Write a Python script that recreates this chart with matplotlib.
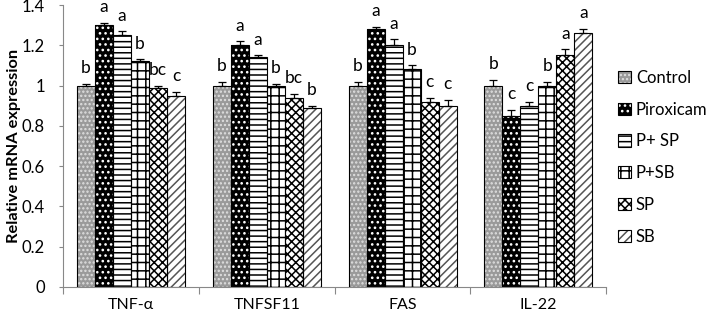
import matplotlib
matplotlib.use('Agg')
import matplotlib.pyplot as plt
from matplotlib.patches import Patch
from matplotlib.legend_handler import HandlerTuple
from matplotlib.ticker import FuncFormatter
import numpy as np

genes = ['TNF-α', 'TNFSF11', 'FAS', 'IL-22']
groups = ['Control', 'Piroxicam', 'P+ SP', 'P+SB', 'SP', 'SB']

# mean per group, one list per treatment (gene order as above)
control = [1.00, 1.00, 1.00, 1.00]
piroxicam = [1.30, 1.20, 1.28, 0.85]
p_sp = [1.25, 1.14, 1.20, 0.90]
p_sb = [1.12, 1.00, 1.08, 1.00]
sp = [0.99, 0.94, 0.92, 1.15]
sb = [0.95, 0.89, 0.90, 1.26]

control_err = [0.01, 0.02, 0.02, 0.03]
piroxicam_err = [0.01, 0.02, 0.01, 0.03]
p_sp_err = [0.02, 0.01, 0.03, 0.02]
p_sb_err = [0.01, 0.01, 0.02, 0.02]
sp_err = [0.01, 0.02, 0.02, 0.03]
sb_err = [0.02, 0.01, 0.03, 0.02]

control_lbl = ['b', 'b', 'b', 'b']
piroxicam_lbl = ['a', 'a', 'a', 'c']
p_sp_lbl = ['a', 'a', 'a', 'c']
p_sb_lbl = ['b', 'b', 'b', 'b']
sp_lbl = ['bc', 'bc', 'c', 'a']
sb_lbl = ['c', 'b', 'c', 'a']

values = [control, piroxicam, p_sp, p_sb, sp, sb]
errors = [control_err, piroxicam_err, p_sp_err, p_sb_err, sp_err, sb_err]
letters = [control_lbl, piroxicam_lbl, p_sp_lbl, p_sb_lbl, sp_lbl, sb_lbl]

# (facecolor, hatch colour, hatch)
styles = [
    ('#9a9a9a', '#e0e0e0', '....'),
    ('black', 'white', '...'),
    ('white', 'black', '---'),
    ('white', 'black', '++'),
    ('white', 'black', 'xxxx'),
    ('white', '#555555', '////'),
]

plt.rcParams['font.family'] = ['Lato', 'DejaVu Sans']
plt.rcParams['hatch.linewidth'] = 1.1

fig = plt.figure(figsize=(7.09, 3.15), dpi=100)
ax = fig.add_axes([0.089, 0.089, 0.766, 0.895])

x = np.arange(len(genes))
w = 0.795 / len(groups)
handles = []
for i, (vals, errs, lbls) in enumerate(zip(values, errors, letters)):
    fc, hc, hatch = styles[i]
    pos = x - 0.795 / 2 + w * (i + 0.5)
    ax.bar(pos, vals, w, color=fc, edgecolor=hc, hatch=hatch, linewidth=0, zorder=2)
    ax.bar(pos, vals, w, fill=False, edgecolor='black', linewidth=0.8, zorder=3)
    ax.errorbar(pos, vals, yerr=[np.zeros(len(errs)), errs], fmt='none',
                ecolor='black', elinewidth=0.9, capsize=3, capthick=0.9, zorder=4)
    for p, v, e, t in zip(pos, vals, errs, lbls):
        ax.text(p, v + e + 0.078, t, ha='center', va='center',
                fontsize=12.5, zorder=6, clip_on=False)
    handles.append((Patch(facecolor=fc, edgecolor=hc, hatch=hatch, linewidth=0),
                    Patch(fill=False, edgecolor='black', linewidth=0.8)))

ax.set_ylim(0, 1.4)
ax.set_xlim(-0.5, len(genes) - 0.5)
ax.set_yticks(np.arange(0, 1.41, 0.2))
ax.yaxis.set_major_formatter(FuncFormatter(lambda v, _: '%g' % round(v, 1)))
ax.tick_params(axis='y', labelsize=12, length=3, pad=10, color='#888888')
ax.set_xticks(np.arange(len(genes) + 1) - 0.5)
ax.set_xticklabels([])
ax.set_xticks(x, minor=True)
ax.set_xticklabels(genes, minor=True, fontsize=11.5)
ax.tick_params(axis='x', which='major', length=5, color='#888888')
ax.tick_params(axis='x', which='minor', length=0, pad=8)
for s in ['top', 'right']:
    ax.spines[s].set_visible(False)
for s in ['left', 'bottom']:
    ax.spines[s].set_color('#888888')
ax.set_ylabel('Relative mRNA expression', fontsize=11.8, fontweight='bold', labelpad=1)

ax.legend(handles, groups, handler_map={tuple: HandlerTuple(ndivide=1, pad=0)},
          loc='center left', bbox_to_anchor=(0.995, 0.46), frameon=False,
          fontsize=12, handlelength=0.75, handleheight=0.75,
          handletextpad=0.3, labelspacing=0.95)

fig.savefig('out.png', dpi=100)
